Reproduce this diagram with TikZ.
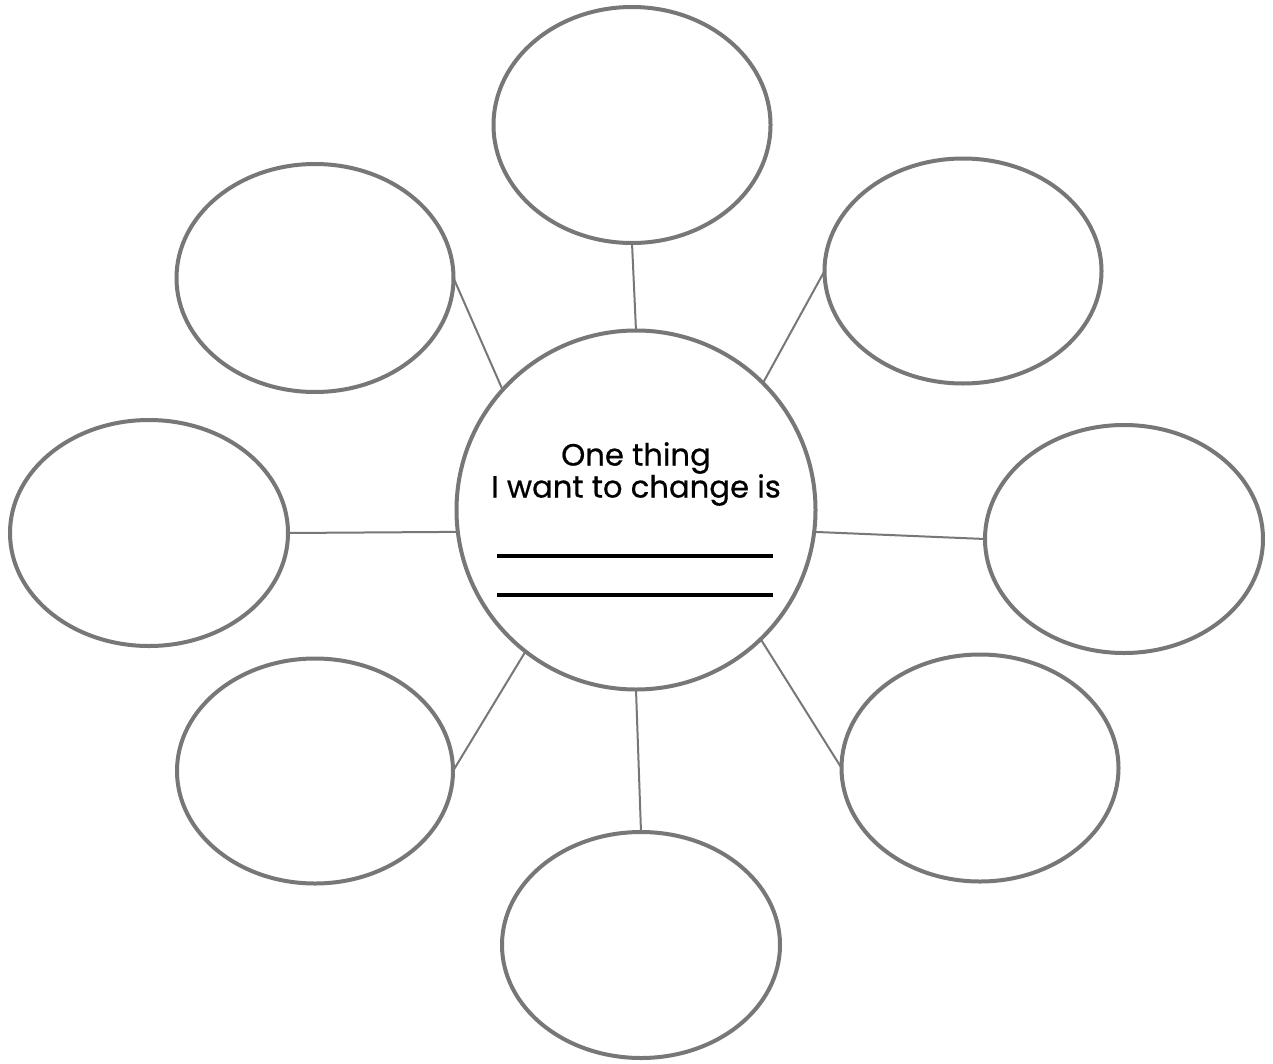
\documentclass[tikz,border=0pt]{standalone}
\usepackage{fontspec}
\setmainfont{Poppins}
\newfontfamily\labfont[FakeBold=0.6]{Poppins}
\usetikzlibrary{shapes.geometric}
\definecolor{rim}{HTML}{777777}
\tikzset{
  bubble/.style={ellipse, draw=rim, line width=3pt, inner sep=0pt, outer sep=0pt},
  link/.style={draw=rim, line width=1.5pt},
  label/.style={inner sep=0pt, font=\labfont\fontsize{23pt}{26pt}\selectfont, text=black}
}
\begin{document}
\begin{tikzpicture}[x=0.75pt,y=-0.75pt]
\useasboundingbox[fill=white] (0,0) rectangle (1273,1063);
\node[bubble, circle, minimum size=269.25pt] (c) at (636,510) {};
\node[bubble, minimum width=207.75pt, minimum height=177pt] (t) at (632,125) {};
\node[bubble, minimum width=207.75pt, minimum height=168.75pt] (tr) at (963,271) {};
\node[bubble, minimum width=208.5pt, minimum height=171pt] (r) at (1124,539) {};
\node[bubble, minimum width=207.75pt, minimum height=170.25pt] (br) at (980,768) {};
\node[bubble, minimum width=208.5pt, minimum height=169.5pt] (b) at (641,945) {};
\node[bubble, minimum width=207pt, minimum height=168.75pt] (bl) at (315,771) {};
\node[bubble, minimum width=208.5pt, minimum height=169.5pt] (l) at (149,533) {};
\node[bubble, minimum width=207.75pt, minimum height=171pt] (tl) at (315,278) {};
\draw[link] (c.north) -- (t.south);
\draw[link] (c.45) -- (tr.west);
\draw[link] (c.-7.5) -- (r.west);
\draw[link] (c.-46) -- (br.west);
\draw[link] (c.south) -- (b.north);
\draw[link] (c.232) -- (bl.east);
\draw[link] (c.187.5) -- (l.east);
\draw[link] (c.138) -- (tl.east);
\node[label] (t1) at (636,458) {One thing};
\node[label] (t2) at (636,490) {I want to change is};
\node[inner sep=0pt] (u1) at (635,555.5) {\rule{207pt}{3pt}};
\node[inner sep=0pt] (u2) at (635,595) {\rule{207pt}{3pt}};
\end{tikzpicture}
\end{document}
